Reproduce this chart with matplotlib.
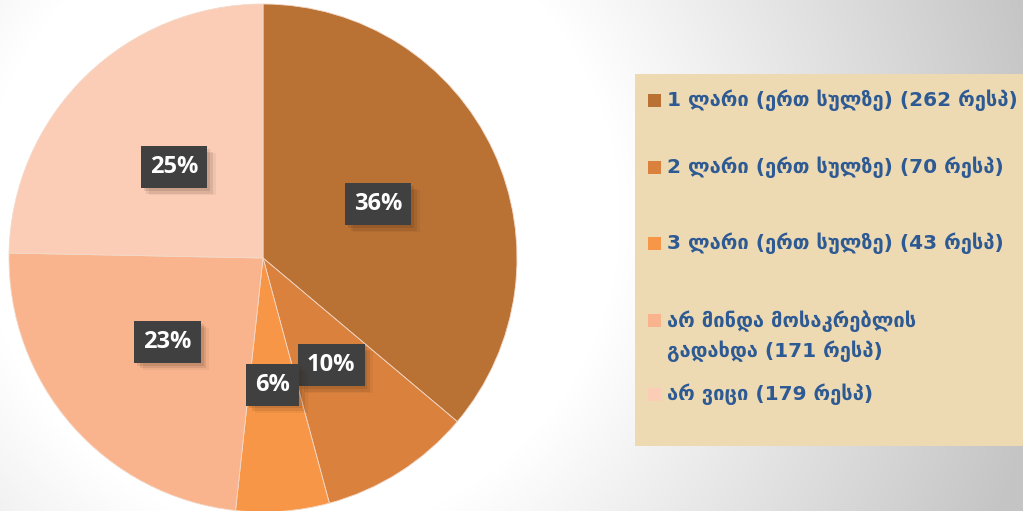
import numpy as np
import matplotlib
matplotlib.use("Agg")
import matplotlib.pyplot as plt
from matplotlib.patches import Rectangle
import matplotlib.patheffects as pe

# survey answers (respondents)
categories = [
    "1 ლარი (ერთ სულზე) (262 რესპ)",
    "2 ლარი (ერთ სულზე) (70 რესპ)",
    "3 ლარი (ერთ სულზე) (43 რესპ)",
    "არ მინდა მოსაკრებლის\nგადახდა (171 რესპ)",
    "არ ვიცი (179 რესპ)",
]
counts = [262, 70, 43, 171, 179]
pct_labels = ["36%", "10%", "6%", "23%", "25%"]
colors = ["#B97134", "#DA813D", "#F79646", "#F9B48E", "#FBCDB7"]

W, H = 1023, 511
fig = plt.figure(figsize=(W / 100, H / 100), dpi=100)

# background: white, fading to grey towards the right
bg = fig.add_axes([0, 0, 1, 1])
bg.set_xlim(0, W)
bg.set_ylim(H, 0)
bg.axis("off")
yy, xx = np.mgrid[0:H, 0:W]
d = np.hypot(xx - 300, yy - 215)
shade = 1.0 - np.clip((d - 320) / 440, 0, 1) * 0.23
bg.imshow(np.dstack([shade] * 3), extent=(0, W, H, 0), aspect="auto", zorder=0)

# legend panel
bg.add_patch(Rectangle((635, 74), 392, 372, facecolor="#EDDAB3", edgecolor="none", zorder=1))
row_y = [100, 167, 243, 336, 394]
line_h = 31
for lab, col, y in zip(categories, colors, row_y):
    n = lab.count("\n")
    my = y - n * line_h / 2
    bg.add_patch(Rectangle((648, my - 6), 13, 13, facecolor=col, edgecolor="none", zorder=2))
    bg.text(667, y, lab, color="#2E5A94", fontsize=14.5, fontweight="bold",
            family=["DejaVu Sans"], va="center", ha="left", zorder=3,
            linespacing=1.5)

# pie
r_px = 254
ax = fig.add_axes([(263 - r_px) / W, (H - 258 - r_px) / H, 2 * r_px / W, 2 * r_px / H])
it = iter(pct_labels)
wedges, texts, autotexts = ax.pie(
    counts, colors=colors, startangle=90, counterclock=False,
    autopct=lambda p: next(it), pctdistance=0.5,
    wedgeprops=dict(edgecolor="#F3D9C8", linewidth=0.6),
)
ax.set_xlim(-1, 1)
ax.set_ylim(-1, 1)
ax.set_aspect("equal")

for t in autotexts:
    t.set_color("white")
    t.set_fontsize(17)
    t.set_fontweight("bold")
    t.set_family("Open Sans")
    t.set_bbox(dict(boxstyle="square,pad=0.38", facecolor="#404040", edgecolor="none"))
    t.get_bbox_patch().set_path_effects([
        pe.SimplePatchShadow(offset=(2, -2), shadow_rgbFace="#3A2010", alpha=0.12),
        pe.SimplePatchShadow(offset=(4, -4), shadow_rgbFace="#3A2010", alpha=0.10),
        pe.SimplePatchShadow(offset=(6, -5), shadow_rgbFace="#3A2010", alpha=0.06),
        pe.Normal(),
    ])

fig.savefig("out.png", dpi=100)
